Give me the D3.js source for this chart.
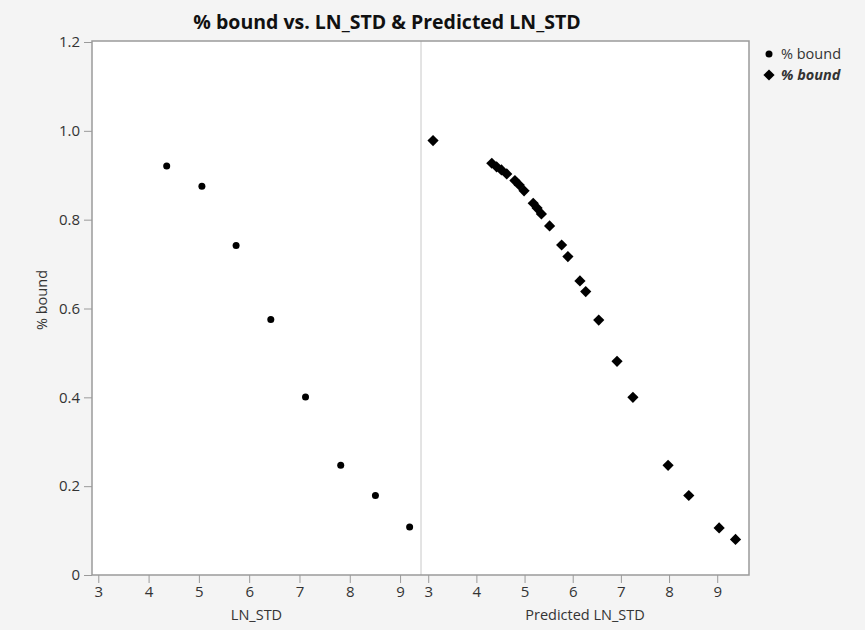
<!DOCTYPE html>
<html>
<head>
<meta charset="utf-8">
<script src="https://cdn.jsdelivr.net/npm/d3@7"></script>
<style>
  body { margin: 0; background: #f4f4f4; }
  text { font-family: "Open Sans", "Noto Sans", sans-serif; fill: #333; }
</style>
</head>
<body>
<svg id="chart" width="865" height="630"></svg>
<script>
// observed LN_STD vs % bound
const lnStd = [4.36, 5.06, 5.74, 6.43, 7.12, 7.82, 8.51, 9.19];
const boundObs = [0.921, 0.875, 0.742, 0.575, 0.401, 0.247, 0.179, 0.108];

// predicted LN_STD vs % bound
const predLnStd = [3.10, 4.32, 4.42, 4.52, 4.63, 4.80, 4.89, 4.99, 5.18, 5.26, 5.35,
    5.52, 5.77, 5.90, 6.15, 6.27, 6.54, 6.92, 7.25, 7.98, 8.41, 9.04, 9.38];
const boundPred = [0.978, 0.927, 0.919, 0.912, 0.903, 0.888, 0.878, 0.865, 0.837, 0.826, 0.813,
    0.786, 0.743, 0.717, 0.662, 0.638, 0.574, 0.481, 0.400, 0.247, 0.179, 0.106, 0.080];

const xTicks = [3, 4, 5, 6, 7, 8, 9];
const yTicks = [0, 0.2, 0.4, 0.6, 0.8, 1.0, 1.2];

const svg = d3.select("#chart");
const plotTop = 41, plotBottom = 575;
const plotLeft = 92, plotMid = 421, plotRight = 749;

const y = d3.scaleLinear().domain([0, 1.2]).range([plotBottom, plotTop + 1]);
const xL = d3.scaleLinear().domain([2.875, 9.416]).range([plotLeft, plotMid]);
const xR = d3.scaleLinear().domain([2.85, 9.66]).range([plotMid, plotRight]);

// plot background
svg.append("rect")
    .attr("x", plotLeft).attr("y", plotTop)
    .attr("width", plotRight - plotLeft).attr("height", plotBottom - plotTop)
    .attr("fill", "#fff");

// panel divider
svg.append("line")
    .attr("x1", plotMid).attr("x2", plotMid).attr("y1", plotTop).attr("y2", plotBottom)
    .attr("stroke", "#c8c8c8").attr("stroke-width", 1);

// frame
svg.append("rect")
    .attr("x", plotLeft).attr("y", plotTop)
    .attr("width", plotRight - plotLeft).attr("height", plotBottom - plotTop)
    .attr("fill", "none").attr("stroke", "#9a9a9a").attr("stroke-width", 1.5);

const styleAxis = (g) => {
    g.select(".domain").remove();
    g.selectAll(".tick line").attr("stroke", "#9a9a9a");
    g.selectAll(".tick text").attr("fill", "#333").style("font-size", "15px")
        .style("font-family", "'Open Sans', 'Noto Sans', sans-serif");
};

svg.append("g")
    .attr("transform", `translate(${plotLeft},0)`)
    .call(d3.axisLeft(y).tickValues(yTicks).tickSize(8).tickPadding(4)
        .tickFormat(d => d === 0 ? "0" : d3.format(".1f")(d)))
    .call(styleAxis);

svg.append("g")
    .attr("transform", `translate(0,${plotBottom})`)
    .call(d3.axisBottom(xL).tickValues(xTicks).tickSize(8).tickPadding(3).tickFormat(d3.format("d")))
    .call(styleAxis);

svg.append("g")
    .attr("transform", `translate(0,${plotBottom})`)
    .call(d3.axisBottom(xR).tickValues(xTicks).tickSize(8).tickPadding(3).tickFormat(d3.format("d")))
    .call(styleAxis);

// points
svg.append("g").selectAll("circle")
    .data(lnStd)
    .join("circle")
    .attr("cx", d => xL(d))
    .attr("cy", (d, i) => y(boundObs[i]))
    .attr("r", 3.5)
    .attr("fill", "#000");

const diamond = d3.symbol().type(d3.symbolDiamond2).size(80);
svg.append("g").selectAll("path")
    .data(predLnStd)
    .join("path")
    .attr("d", diamond)
    .attr("transform", (d, i) => `translate(${xR(d)},${y(boundPred[i])})`)
    .attr("fill", "#000");

// title
svg.append("text")
    .attr("x", 387).attr("y", 29)
    .attr("text-anchor", "middle")
    .style("font-size", "19.5px").style("font-weight", "bold")
    .style("fill", "#111")
    .text("% bound vs. LN_STD & Predicted LN_STD");

// axis labels
svg.append("text")
    .attr("x", (plotLeft + plotMid) / 2).attr("y", 620)
    .attr("text-anchor", "middle").style("font-size", "14.5px")
    .text("LN_STD");

svg.append("text")
    .attr("x", (plotMid + plotRight) / 2).attr("y", 620)
    .attr("text-anchor", "middle").style("font-size", "14.5px")
    .text("Predicted LN_STD");

svg.append("text")
    .attr("transform", "translate(47,300) rotate(-90)")
    .attr("text-anchor", "middle").style("font-size", "14.5px")
    .text("% bound");

// legend
const legend = svg.append("g");
legend.append("circle").attr("cx", 769).attr("cy", 54).attr("r", 3.5).attr("fill", "#000");
legend.append("text").attr("x", 781).attr("y", 59).style("font-size", "14.5px").text("% bound");
legend.append("path")
    .attr("d", diamond)
    .attr("transform", "translate(769,75)")
    .attr("fill", "#000");
legend.append("text").attr("x", 781).attr("y", 80).style("font-size", "14.5px")
    .style("font-weight", "bold").style("font-style", "italic").text("% bound");
</script>
</body>
</html>
